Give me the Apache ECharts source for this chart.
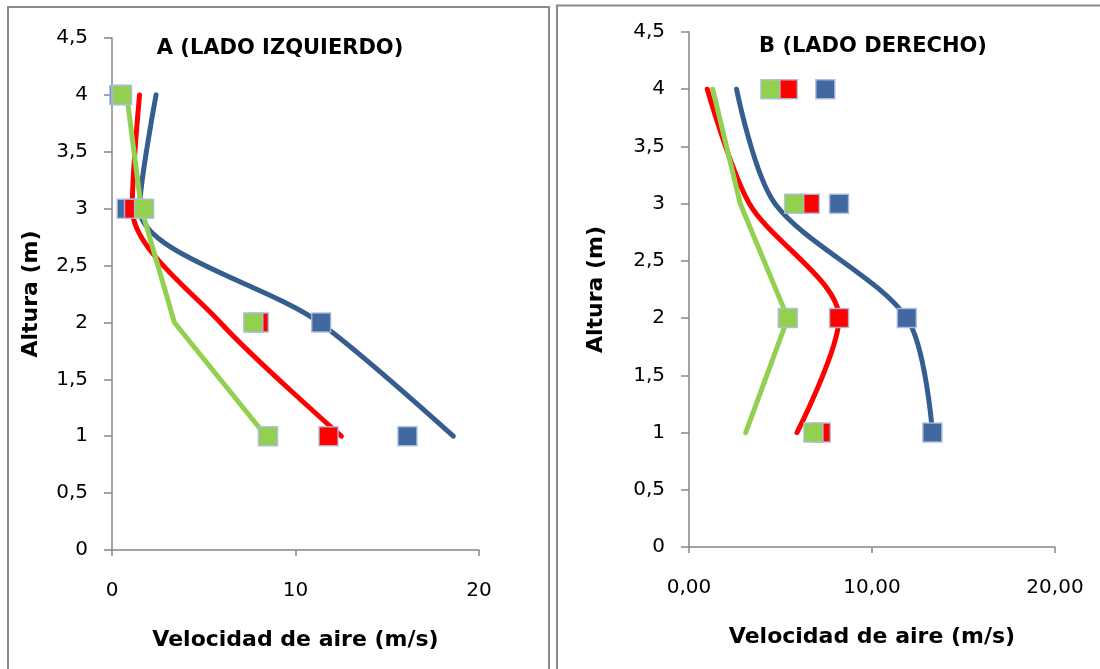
<!DOCTYPE html>
<html>
<head>
<meta charset="utf-8">
<script src="https://cdn.jsdelivr.net/npm/echarts@6/dist/echarts.min.js"></script>
<style>
  html, body { margin: 0; padding: 0; background: #fff; }
  #chart { width: 1100px; height: 669px; }
</style>
</head>
<body>
<div id="chart"></div>
<script>
// alturas (m)
var heights = [4, 3, 2, 1];

// A (lado izquierdo) - curvas
var aBlueLine = [2.4, 1.5, 11.3, 18.6];
var aRedLine = [1.5, 1.1, 5.9, 12.5];
var aGreenLine = [0.8, 1.6, 3.4, 8.4];
// A - puntos medidos
var aBlueSq = [0.4, 0.8, 11.4, 16.1];
var aRedSq = [0.5, 1.2, 8.0, 11.8];
var aGreenSq = [0.55, 1.75, 7.7, 8.5];

// B (lado derecho) - curvas
var bBlueLine = [2.6, 4.7, 11.9, 13.3];
var bRedLine = [1.0, 3.3, 8.2, 5.9];
var bGreenLine = [1.3, 2.8, 5.4, 3.1];
// B - puntos medidos
var bBlueSq = [7.45, 8.2, 11.9, 13.3];
var bRedSq = [5.4, 6.6, 8.2, 7.2];
var bGreenSq = [4.45, 5.75, 5.4, 6.8];

var blueLine = '#355d90', blueSq = '#4169a0';
var red = '#ff0000', green = '#92d050';
var sqBorder = 'rgba(170,190,220,0.9)';

function pairs(xs) {
    return xs.map(function (x, i) { return [x, heights[i]]; });
}

function lineSeries(xs, color, smooth, idx) {
    return {
        type: 'line',
        xAxisIndex: idx, yAxisIndex: idx,
        data: pairs(xs),
        smooth: smooth,
        showSymbol: false,
        symbol: 'none',
        lineStyle: { color: color, width: 5, cap: 'round', join: 'round' },
        z: 2
    };
}

function sqSeries(xs, color, idx, z) {
    return {
        type: 'scatter',
        xAxisIndex: idx, yAxisIndex: idx,
        data: pairs(xs),
        symbol: 'rect',
        symbolSize: 19,
        itemStyle: { color: color, borderColor: sqBorder, borderWidth: 1.5, opacity: 1 },
        z: z
    };
}

var tickFont = { fontFamily: 'DejaVu Sans', fontSize: 20, color: '#000' };
var nameFont = { fontFamily: 'DejaVu Sans', fontWeight: 'bold', fontSize: 22, color: '#000' };
var titleFont = { fontFamily: 'DejaVu Sans', fontWeight: 'bold', fontSize: 21, color: '#000' };
var axisGray = '#868686';

function xAxis(idx, fmt) {
    return {
        type: 'value', gridIndex: idx, min: 0, max: 20, interval: 10,
        name: 'Velocidad de aire (m/s)', nameLocation: 'middle', nameGap: 79,
        nameTextStyle: nameFont,
        axisLine: { show: true, lineStyle: { color: axisGray, width: 1.5 } },
        axisTick: { show: true, length: 6, lineStyle: { color: axisGray, width: 1.5 } },
        axisLabel: Object.assign({ margin: 31, formatter: fmt }, tickFont),
        splitLine: { show: false }
    };
}

function yAxis(idx, gap) {
    return {
        type: 'value', gridIndex: idx, min: 0, max: 4.5, interval: 0.5,
        name: 'Altura (m)', nameLocation: 'middle', nameGap: gap, nameRotate: 90,
        nameTextStyle: nameFont,
        axisLine: { show: true, lineStyle: { color: axisGray, width: 1.5 } },
        axisTick: { show: true, length: 8, lineStyle: { color: axisGray, width: 1.5 } },
        axisLabel: Object.assign({
            margin: 24,
            formatter: function (v) { return String(v).replace('.', ','); }
        }, tickFont),
        splitLine: { show: false }
    };
}

var chart = echarts.init(document.getElementById('chart'));
chart.setOption({
    backgroundColor: '#fff',
    animation: false,
    title: [
        { text: 'A (LADO IZQUIERDO)', left: 275, top: 33, textAlign: 'center', textStyle: titleFont },
        { text: 'B (LADO DERECHO)', left: 868, top: 31, textAlign: 'center', textStyle: titleFont }
    ],
    graphic: [
        { type: 'rect', shape: { x: 8, y: 7, width: 541, height: 680 },
          style: { fill: 'none', stroke: '#8a8a8a', lineWidth: 2 }, silent: true },
        { type: 'rect', shape: { x: 557, y: 5.5, width: 560, height: 680 },
          style: { fill: 'none', stroke: '#8a8a8a', lineWidth: 2 }, silent: true }
    ],
    grid: [
        { left: 112, top: 38, width: 367, height: 512 },
        { left: 689, top: 32, width: 366, height: 515 }
    ],
    xAxis: [
        xAxis(0, function (v) { return String(v); }),
        xAxis(1, function (v) { return v.toFixed(2).replace('.', ','); })
    ],
    yAxis: [yAxis(0, 70), yAxis(1, 82)],
    series: [
        lineSeries(aBlueLine, blueLine, 0.3, 0),
        lineSeries(aRedLine, red, 0.3, 0),
        lineSeries(aGreenLine, green, false, 0),
        sqSeries(aBlueSq, blueSq, 0, 3),
        sqSeries(aRedSq, red, 0, 4),
        sqSeries(aGreenSq, green, 0, 5),
        lineSeries(bBlueLine, blueLine, 0.3, 1),
        lineSeries(bRedLine, red, 0.3, 1),
        lineSeries(bGreenLine, green, false, 1),
        sqSeries(bBlueSq, blueSq, 1, 3),
        sqSeries(bRedSq, red, 1, 4),
        sqSeries(bGreenSq, green, 1, 5)
    ]
});
</script>
</body>
</html>
